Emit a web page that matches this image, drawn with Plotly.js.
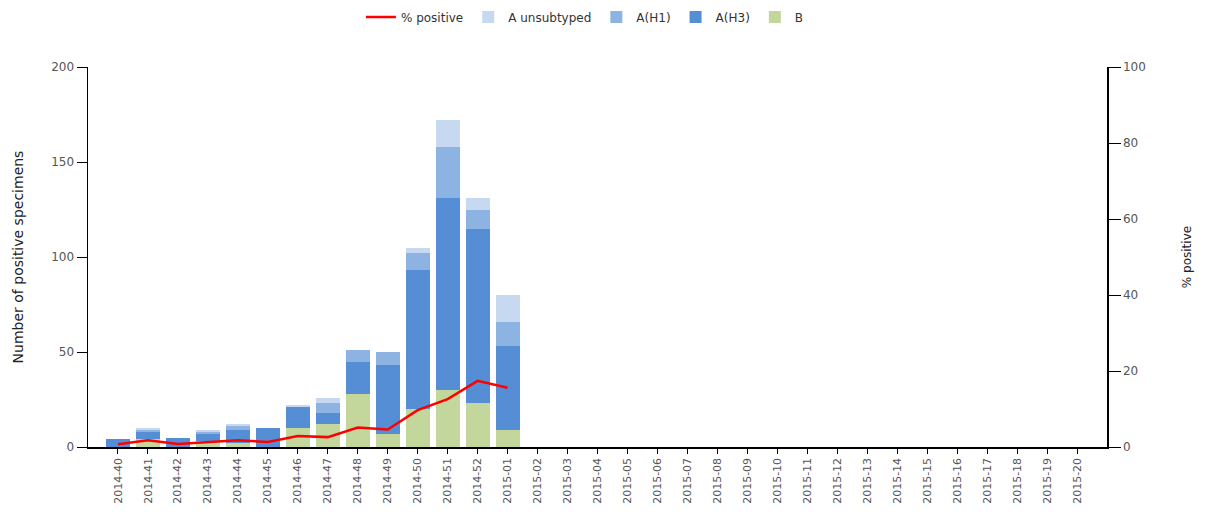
<!DOCTYPE html>
<html>
<head>
<meta charset="utf-8">
<script src="https://cdn.plot.ly/plotly-3.0.1.min.js"></script>
<style>html,body{margin:0;padding:0;background:#fff;}#chart{width:1211px;height:518px;}</style>
</head>
<body>
<div id="chart"></div>
<script>
var weeks = ["2014-40","2014-41","2014-42","2014-43","2014-44","2014-45","2014-46","2014-47","2014-48","2014-49","2014-50","2014-51","2014-52",
  "2015-01","2015-02","2015-03","2015-04","2015-05","2015-06","2015-07","2015-08","2015-09","2015-10","2015-11","2015-12","2015-13",
  "2015-14","2015-15","2015-16","2015-17","2015-18","2015-19","2015-20"];
var dataWeeks = weeks.slice(0, 14);
var fluB       = [0, 4, 0, 3, 2, 0, 10, 12, 28, 7, 20, 30, 23, 9];
var fluAH3     = [4, 4, 5, 4, 7, 10, 11, 6, 17, 36, 73, 101, 92, 44];
var fluAH1     = [0, 1, 0, 1, 2, 0, 0, 5, 6, 7, 9, 27, 10, 13];
var fluAunsub  = [0, 1, 0, 1, 1, 0, 1, 3, 0, 0, 3, 14, 6, 14];
var pctPositive = [0.7, 1.8, 0.8, 1.3, 1.8, 1.3, 2.9, 2.6, 5.1, 4.6, 9.7, 12.6, 17.4, 15.6];

var font = {family: "DejaVu Sans, Verdana, sans-serif", size: 11, color: "#444"};

var traces = [
  {type: "bar", name: "B", x: dataWeeks, y: fluB, marker: {color: "#c3d69b"}, legendrank: 5},
  {type: "bar", name: "A(H3)", x: dataWeeks, y: fluAH3, marker: {color: "#558ed5"}, legendrank: 4},
  {type: "bar", name: "A(H1)", x: dataWeeks, y: fluAH1, marker: {color: "#8db3e2"}, legendrank: 3},
  {type: "bar", name: "A unsubtyped", x: dataWeeks, y: fluAunsub, marker: {color: "#c6d9f1"}, legendrank: 2},
  {type: "scatter", mode: "lines", name: "% positive", x: dataWeeks, y: pctPositive, yaxis: "y2",
   line: {color: "#ff0000", width: 2.5}, legendrank: 1}
];

var layout = {
  width: 1211, height: 518,
  margin: {l: 88, r: 104, t: 67, b: 71, autoexpand: false},
  paper_bgcolor: "#fff", plot_bgcolor: "#fff",
  barmode: "stack", bargap: 0.2,
  font: font,
  showlegend: true,
  legend: {orientation: "h", x: 0.483, xanchor: "center", xref: "container", y: 0.995, yanchor: "top", yref: "container",
           font: {family: font.family, size: 12, color: "#333"}, traceorder: "normal"},
  xaxis: {type: "category", categoryorder: "array", categoryarray: weeks, range: [-1, 33],
          showline: true, linecolor: "#000", linewidth: 1.5, ticks: "outside", ticklen: 5, tickcolor: "#000",
          tickangle: -90, showgrid: false, zeroline: false, tickfont: {size: 11, color: "#555"}},
  yaxis: {range: [0, 200], dtick: 50, showline: true, linecolor: "#000", linewidth: 1.5,
          ticks: "outside", ticklen: 10, tickcolor: "#000", showgrid: false, zeroline: false,
          title: {text: "Number of positive specimens", font: {size: 14, color: "#222"}, standoff: 24},
          tickfont: {size: 12, color: "#555"}},
  yaxis2: {range: [0, 100], dtick: 20, overlaying: "y", side: "right", showline: true, linecolor: "#000",
           linewidth: 1.5, ticks: "outside", ticklen: 12, tickcolor: "#000", showgrid: false, zeroline: false,
           title: {text: "% positive", font: {size: 12, color: "#222"}, standoff: 38},
           tickfont: {size: 12, color: "#555"}}
};

Plotly.newPlot("chart", traces, layout, {displayModeBar: false, staticPlot: true});
</script>
</body>
</html>
